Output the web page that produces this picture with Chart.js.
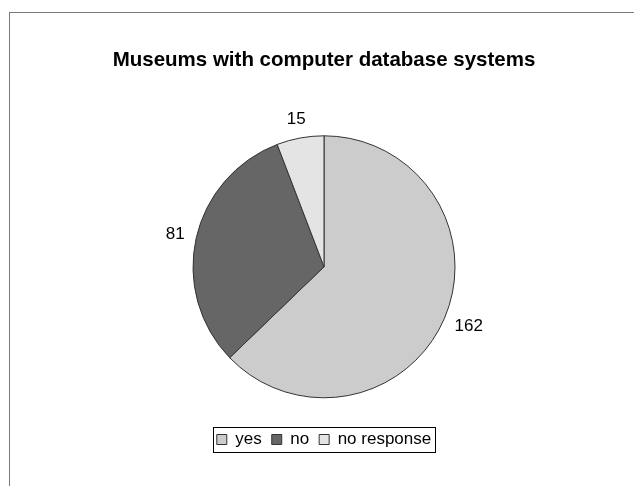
<!DOCTYPE html>
<html lang="en">
<head>
    <meta charset="UTF-8">
    <title>Museums with computer database systems</title>
    <script src="https://cdn.jsdelivr.net/npm/chart.js"></script>
    <style>
        body {
            margin: 0;
            padding: 0;
            background-color: #fff;
            width: 634px;
            height: 486px;
            overflow: hidden;
            position: relative;
        }
        /* outer frame, only the top and left edges show */
        .frame {
            position: absolute;
            left: 9px;
            top: 12px;
            width: 700px;
            height: 600px;
            border: 1px solid #7a7a7a;
        }
        #pieChart {
            position: absolute;
            left: 0;
            top: 0;
        }
    </style>
</head>
<body>
    <div class="frame"></div>
    <canvas id="pieChart" width="634" height="486"></canvas>

    <script>
        const categories = ['yes', 'no', 'no response'];
        const counts = [162, 81, 15];
        const sliceColors = ['#cccccc', '#666666', '#e4e4e4'];

        const FONT = '"Liberation Sans", Arial, sans-serif';

        // value labels outside each slice
        const sliceLabels = {
            id: 'sliceLabels',
            afterDraw(chart) {
                const ctx = chart.ctx;
                const meta = chart.getDatasetMeta(0);
                ctx.save();
                ctx.font = '17px ' + FONT;
                ctx.fillStyle = '#000';
                ctx.textAlign = 'left';
                ctx.textBaseline = 'top';
                meta.data.forEach((arc, i) => {
                    const p = arc.getProps(['x', 'y', 'startAngle', 'endAngle', 'outerRadius'], true);
                    const a = (p.startAngle + p.endAngle) / 2;
                    const d = p.outerRadius + 12;
                    const ax = p.x + Math.cos(a) * d;
                    const ay = p.y + Math.sin(a) * d;
                    const text = String(counts[i]);
                    const w = ctx.measureText(text).width;
                    const h = 14;
                    const left = ax + (Math.cos(a) - 1) / 2 * w;
                    const top = ay + (Math.sin(a) - 1) / 2 * h;
                    ctx.fillText(text, left, top - 1);
                });
                ctx.restore();
            }
        };

        // thin box round the legend
        const legendBox = {
            id: 'legendBox',
            afterDraw(chart) {
                const boxes = chart.legend.legendHitBoxes;
                if (!boxes || !boxes.length) return;
                const left = Math.min(...boxes.map(b => b.left)) - 4;
                const right = Math.max(...boxes.map(b => b.left + b.width)) + 4;
                const top = boxes[0].top - 4;
                const bottom = boxes[0].top + boxes[0].height + 4;
                const ctx = chart.ctx;
                ctx.save();
                ctx.strokeStyle = '#000';
                ctx.lineWidth = 1;
                ctx.strokeRect(Math.round(left) + 0.5, Math.round(top) + 0.5,
                    Math.round(right - left), Math.round(bottom - top));
                ctx.restore();
            }
        };

        new Chart(document.getElementById('pieChart').getContext('2d'), {
            type: 'pie',
            data: {
                labels: categories,
                datasets: [{
                    data: counts,
                    backgroundColor: sliceColors,
                    borderColor: '#333333',
                    borderWidth: 1,
                    radius: 131
                }]
            },
            options: {
                responsive: false,
                animation: false,
                layout: {
                    padding: { left: 14, right: 0, top: 0, bottom: 28 }
                },
                plugins: {
                    title: {
                        display: true,
                        text: 'Museums with computer database systems',
                        color: '#000',
                        font: { family: FONT, size: 20.5, weight: 'bold' },
                        padding: { top: 48, bottom: 40 }
                    },
                    legend: {
                        position: 'bottom',
                        labels: {
                            color: '#000',
                            font: { family: FONT, size: 17 },
                            boxWidth: 10,
                            boxHeight: 10,
                            padding: 10
                        }
                    },
                    tooltip: { enabled: false }
                }
            },
            plugins: [sliceLabels, legendBox]
        });
    </script>
</body>
</html>
